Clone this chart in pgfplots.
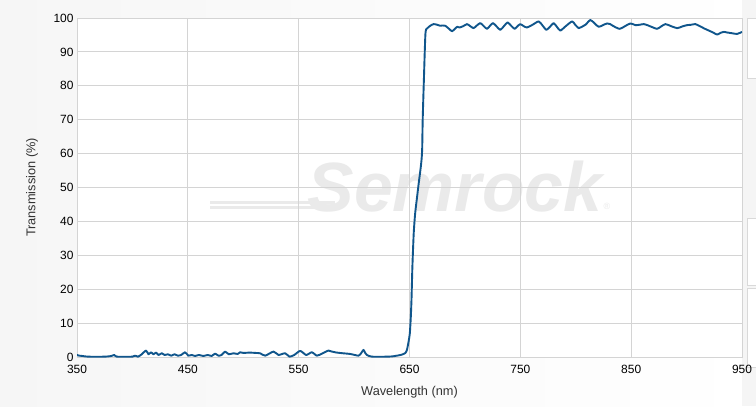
\documentclass[border=0pt]{standalone}
\usepackage{pgfplots}
\pgfplotsset{compat=1.18}
\usepackage{fontspec}
\setmainfont{Liberation Sans}

\definecolor{curve}{RGB}{16,86,140}
\definecolor{gridc}{RGB}{212,212,212}
\definecolor{wmark}{RGB}{234,234,234}
\definecolor{labc}{RGB}{51,51,51}

\pgfplotstableread{
nm   T
350 0.6
352 0.4
355 0.3
360 0.1
375 0.1
381 0.3
383.7 0.6
386 0.1
400 0.1
402.4 0.4
405 0.1
408 0.7
412.3 1.9
414.5 0.8
416.8 1.4
419 0.8
421.3 1.3
423.5 0.6
426.5 1.1
429 0.6
432 0.8
435 0.4
438 0.8
441 0.4
444 0.6
447.5 1.4
450.5 0.4
453.5 0.6
456.5 0.3
460 0.6
464 0.3
468 0.6
471.5 0.3
474.6 1.0
477.5 0.4
480.5 0.6
483.6 1.6
487 0.8
491.1 1.1
495 0.9
497.2 1.4
500 1.2
506 1.3
511 1.2
515.2 1.1
519.8 0.4
527.3 1.6
531.8 0.6
537.8 1.1
541.7 0.1
546 0.6
551.4 1.8
556.8 0.6
561.9 1.4
566.4 0.4
571 1.0
576.9 1.9
580 1.6
584.5 1.3
590 1.1
596.5 0.9
604 0.4
606.5 1.2
608.5 2.1
610 1.2
611.6 0.6
616.1 0.1
629.6 0.1
635 0.2
638.7 0.4
642 0.6
644.7 0.9
646.3 1.2
647.7 2.1
649.2 4.6
650.3 7
651.2 12
651.8 17
652.6 26.6
653.8 36.5
655 42
656.2 45.5
658.3 51.2
660.5 57
661.4 61
661.9 70
663 82
664.4 95.5
666.2 97
668.7 97.7
671.7 98.2
675 98.0
677.8 97.7
680 97.8
682.3 97.7
685 97.0
688.3 96.1
691 96.8
693 97.4
695.2 97.2
698.5 97.6
701.9 98.2
704.8 97.6
707.8 97.0
710.8 97.8
713.9 98.5
717 97.6
719.9 96.8
722.6 97.7
725.3 98.5
728.6 97.5
731.9 96.5
735.2 97.6
738.5 98.7
741.7 97.7
744.9 96.8
747.5 97.6
750 98.2
753 97.6
756 97.2
761 98.0
766.5 99.0
770 97.8
773.5 96.5
777 97.5
780 98.5
783 97.4
786.1 96.3
791 97.6
796.7 99.0
799.5 98.0
802.6 97.0
804.2 97.2
808.7 98.0
813.2 99.4
817 98.4
820.7 97.4
824.5 97.9
828.3 98.4
831 98.2
834 97.6
839.6 96.8
844.5 97.6
849.3 98.4
853.8 97.9
857.5 98.0
861.3 98.2
864.5 97.9
869 97.3
873.4 96.8
877 97.5
880.9 98.2
886 97.6
891.5 97.0
896 97.5
900.5 97.9
904 98.0
908 98.2
912.5 97.5
916 96.9
920 96.3
924 95.7
927.6 95.1
930.5 95.6
933.6 95.9
937 95.7
941.1 95.5
945.6 95.3
950 95.9
}\spectrum

\begin{document}
\begin{tikzpicture}[x=1bp,y=1bp]
\useasboundingbox (-77,-49) rectangle (679,357);
% page background
\shade[left color=gray!7, right color=white] (-77,-49) rectangle (679,357);
% cut-off side panels on the right
\fill[gray!8] (665,-49) rectangle (682,357);
\draw[gray!30, fill=white] (670.5,338.7) rectangle (690,278.7);
\draw[gray!30, fill=white] (670.5,139.3) rectangle (690,72);
\draw[gray!30, fill=white] (670.5,68.7) rectangle (690,-10);
% plot area
\fill[white] (0,0) rectangle (665,339);
% watermark
\draw[wmark, line width=3bp] (133,155) -- (258,155);
\draw[wmark, line width=3bp] (133,150) -- (252,150);
\node[text=wmark, font=\fontsize{70}{70}\selectfont\bfseries\itshape] at (378,170) {Semrock};
\node[text=wmark, font=\fontsize{9}{9}\selectfont] at (530,151) {®};

\begin{axis}[
    at={(0,0)}, anchor=south west,
    scale only axis,
    width=665bp, height=339bp,
    xmin=350, xmax=950,
    ymin=0, ymax=100,
    xtick={350,450,...,950},
    ytick={0,10,...,100},
    grid=major,
    grid style={gridc, line width=0.9bp},
    axis line style={gridc, line width=0.9bp},
    major tick length=0pt,
    /pgf/number format/assume math mode=true,
    ticklabel style={font=\fontsize{12}{14}\selectfont, text=black},
    xticklabel style={yshift=-4.5bp},
    xlabel={Wavelength (nm)},
    ylabel={Transmission (\%)},
    every axis x label/.style={at={(axis description cs:0.5,0)}, yshift=-35bp, anchor=center,
        font=\fontsize{12.8}{14}\selectfont, text=labc},
    every axis y label/.style={at={(axis description cs:0,0.5)}, xshift=-45bp, rotate=90, anchor=center,
        font=\fontsize{12.8}{14}\selectfont, text=labc},
    clip=true,
]
\addplot[curve, line width=1.9bp, line join=round, smooth, tension=0.4] table[x=nm, y=T] {\spectrum};
\end{axis}
\end{tikzpicture}
\end{document}
